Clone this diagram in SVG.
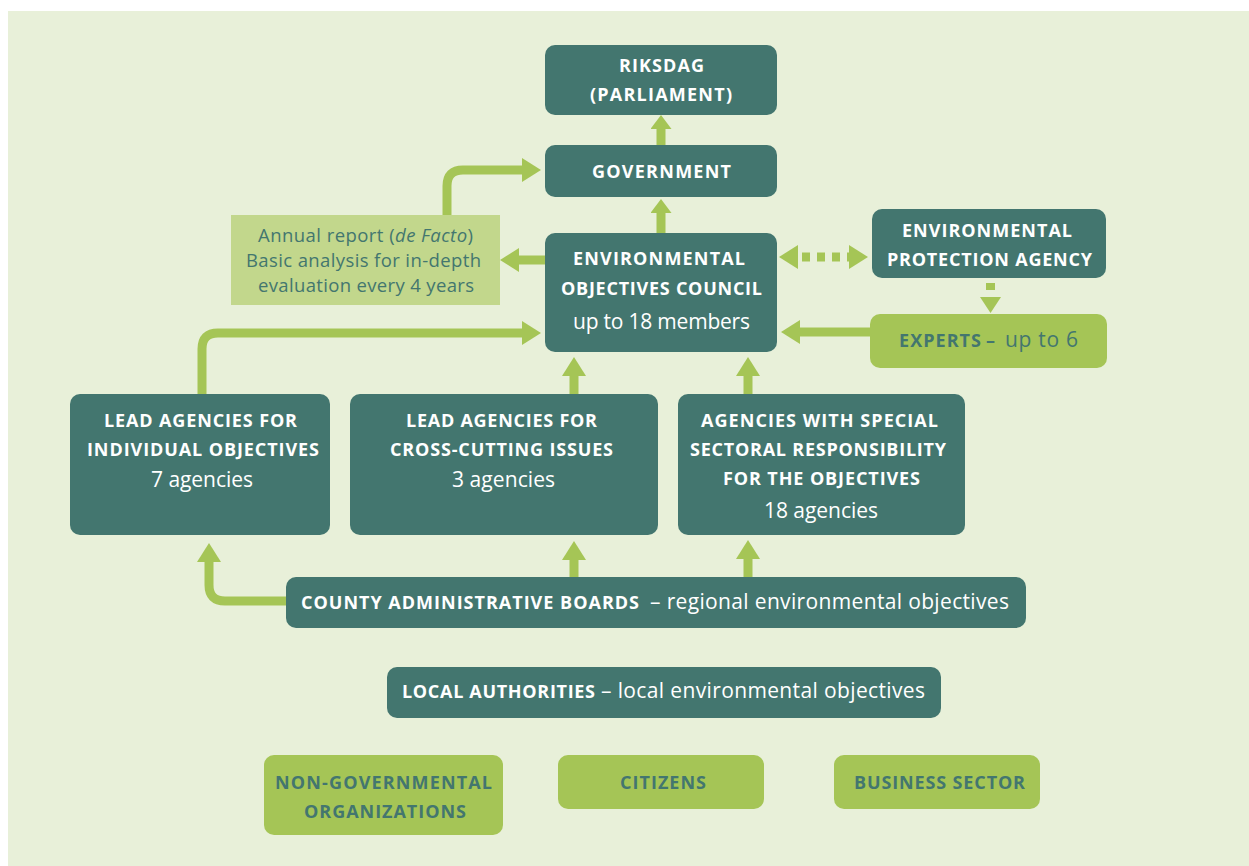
<svg xmlns="http://www.w3.org/2000/svg" width="1249" height="866" viewBox="0 0 1249 866">
  <defs>
    <style>
      .panel { fill: #e8f0d9; }
      .teal { fill: #43766f; }
      .green { fill: #a5c556; }
      .pale { fill: #c2d78c; }
      .cap { font-family: "Open Sans", "Liberation Sans", sans-serif; font-weight: 700; font-size: 18px; fill: #ffffff; text-anchor: middle; }
      .reg { font-family: "Open Sans", "Liberation Sans", sans-serif; font-weight: 400; font-size: 21px; fill: #ffffff; text-anchor: middle; }
      .note { font-family: "Open Sans", "Liberation Sans", sans-serif; font-weight: 400; font-size: 18.5px; fill: #43766f; text-anchor: middle; }
      .st { text-anchor: start; }
      .dk { fill: #43766f; }
      .shaft { fill: none; stroke: #a5c556; stroke-width: 9; }
      .dot { stroke-dasharray: 8 7; stroke-dashoffset: 10; }
    </style>
    <marker id="ah" markerUnits="userSpaceOnUse" viewBox="0 0 19 24" markerWidth="19" markerHeight="24" refX="1" refY="12" orient="auto-start-reverse">
      <path d="M0,0 L19,12 L0,24 Z" fill="#a5c556"/>
    </marker>
    <marker id="ahs" markerUnits="userSpaceOnUse" viewBox="0 0 14 21" markerWidth="14" markerHeight="21" refX="1" refY="10.5" orient="auto">
      <path d="M0,0 L14,10.5 L0,21 Z" fill="#a5c556"/>
    </marker>
  </defs>

  <rect class="panel" x="8" y="11" width="1241" height="855"/>

  <!-- connectors -->
  <g id="connectors">
    <path class="shaft" d="M661,145 V128" marker-end="url(#ahs)"/>
    <path class="shaft" d="M661,233 V212" marker-end="url(#ahs)"/>
    <path class="shaft" d="M545,260 H518" marker-end="url(#ah)"/>
    <path class="shaft" d="M447,215 V186 Q447,170 463,170 H523" marker-end="url(#ah)"/>
    <path class="shaft" d="M202,394 V349 Q202,333 218,333 H523" marker-end="url(#ah)"/>
    <path class="shaft" d="M574,394 V375" marker-end="url(#ah)"/>
    <path class="shaft" d="M748,394 V375" marker-end="url(#ah)"/>
    <path class="shaft" d="M870,332 H799" marker-end="url(#ah)"/>
    <path class="shaft dot" d="M797,257 H850" marker-start="url(#ah)" marker-end="url(#ah)"/>
    <path class="shaft" d="M990.5,283 V290"/>
    <path d="M980,297 L1001,297 L990.5,313 Z" fill="#a5c556"/>
    <path class="shaft" d="M574,577 V559" marker-end="url(#ah)"/>
    <path class="shaft" d="M748,577 V558" marker-end="url(#ah)"/>
    <path class="shaft" d="M286,601 H225 Q209,601 209,585 V561" marker-end="url(#ah)"/>
  </g>

  <g id="riksdag">
    <rect class="teal" x="545" y="45" width="232" height="70" rx="10"/>
    <text class="cap" x="661.5" y="72" textLength="85">RIKSDAG</text>
    <text class="cap" x="661" y="101" textLength="142">(PARLIAMENT)</text>
  </g>

  <g id="government">
    <rect class="teal" x="545" y="145" width="232" height="52" rx="10"/>
    <text class="cap" x="661.5" y="178" textLength="139">GOVERNMENT</text>
  </g>

  <g id="annual-report">
    <rect class="pale" x="231" y="215" width="269" height="90"/>
    <text class="note" x="365.5" y="242" textLength="215">Annual report (<tspan font-style="italic">de Facto</tspan>)</text>
    <text class="note" x="363.5" y="267" textLength="235">Basic analysis for in-depth</text>
    <text class="note" x="366" y="292" textLength="216">evaluation every 4 years</text>
  </g>

  <g id="council">
    <rect class="teal" x="545" y="233" width="232" height="119" rx="10"/>
    <text class="cap" x="659" y="265" textLength="172">ENVIRONMENTAL</text>
    <text class="cap" x="661.5" y="295" textLength="201">OBJECTIVES COUNCIL</text>
    <text class="reg" x="661.5" y="329" textLength="177">up to 18 members</text>
  </g>

  <g id="epa">
    <rect class="teal" x="872" y="209" width="234" height="69" rx="10"/>
    <text class="cap" x="987" y="237" textLength="170">ENVIRONMENTAL</text>
    <text class="cap" x="989.5" y="266" textLength="205">PROTECTION AGENCY</text>
  </g>

  <g id="experts">
    <rect class="green" x="870" y="314" width="237" height="54" rx="10"/>
    <text class="cap dk st" x="899" y="347" textLength="82">EXPERTS</text>
    <text class="cap dk st" x="986" y="347">–</text>
    <text class="reg dk st" x="1005" y="347" font-size="24" textLength="73">up to 6</text>
  </g>

  <g id="lead-individual">
    <rect class="teal" x="70" y="394" width="260" height="141" rx="10"/>
    <text class="cap" x="200.5" y="427" textLength="193">LEAD AGENCIES FOR</text>
    <text class="cap" x="203" y="456" textLength="232">INDIVIDUAL OBJECTIVES</text>
    <text class="reg" x="202" y="487" textLength="102">7 agencies</text>
  </g>

  <g id="lead-crosscutting">
    <rect class="teal" x="350" y="394" width="308" height="141" rx="10"/>
    <text class="cap" x="501.5" y="427" textLength="191">LEAD AGENCIES FOR</text>
    <text class="cap" x="501.5" y="456" textLength="223">CROSS-CUTTING ISSUES</text>
    <text class="reg" x="503.5" y="487" textLength="103">3 agencies</text>
  </g>

  <g id="sectoral">
    <rect class="teal" x="678" y="394" width="287" height="141" rx="10"/>
    <text class="cap" x="819.5" y="427" textLength="237">AGENCIES WITH SPECIAL</text>
    <text class="cap" x="818" y="456" textLength="256">SECTORAL RESPONSIBILITY</text>
    <text class="cap" x="821.5" y="485" textLength="197">FOR THE OBJECTIVES</text>
    <text class="reg" x="821" y="518" textLength="114">18 agencies</text>
  </g>

  <g id="county">
    <rect class="teal" x="286" y="577" width="740" height="51" rx="10"/>
    <text class="cap st" x="301" y="609" textLength="338">COUNTY ADMINISTRATIVE BOARDS</text>
    <text class="reg st" x="650" y="609" textLength="359">– regional environmental objectives</text>
  </g>

  <g id="local">
    <rect class="teal" x="387" y="667" width="554" height="51" rx="10"/>
    <text class="cap st" x="402" y="698" textLength="193">LOCAL AUTHORITIES</text>
    <text class="reg st" x="601" y="698" textLength="324">– local environmental objectives</text>
  </g>

  <g id="ngo">
    <rect class="green" x="264" y="755" width="239" height="80" rx="10"/>
    <text class="cap dk" x="383.5" y="789" textLength="217">NON-GOVERNMENTAL</text>
    <text class="cap dk" x="385" y="818" textLength="162">ORGANIZATIONS</text>
  </g>

  <g id="citizens">
    <rect class="green" x="558" y="755" width="206" height="54" rx="10"/>
    <text class="cap dk" x="663" y="789" textLength="86">CITIZENS</text>
  </g>

  <g id="business">
    <rect class="green" x="834" y="755" width="206" height="54" rx="10"/>
    <text class="cap dk" x="939.5" y="789" textLength="171">BUSINESS SECTOR</text>
  </g>
</svg>
